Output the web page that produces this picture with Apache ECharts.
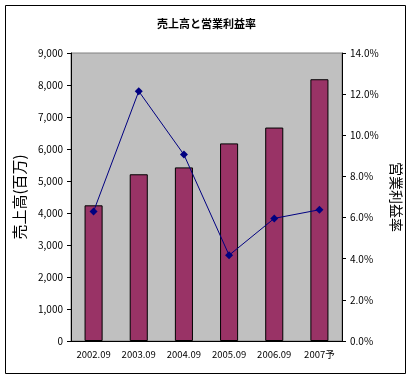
<!DOCTYPE html>
<html><head><meta charset="utf-8">
<script src="https://cdn.jsdelivr.net/npm/echarts@6/dist/echarts.min.js"></script>
<style>html,body{margin:0;padding:0;background:#fff}#c{width:413px;height:380px}</style>
</head><body><div id="c"></div>
<script>
var categories = ['2002.09','2003.09','2004.09','2005.09','2006.09','2007予'];
var sales = [4240, 5210, 5425, 6175, 6670, 8180];
var margin = [6.30, 12.14, 9.06, 4.17, 5.96, 6.38];
var titleText = '売上高と営業利益率';
var leftName = '売上高(百万)';
var rightName = '営業利益率';

var F = '"Noto Sans CJK JP", "Liberation Sans", sans-serif';
var chart = echarts.init(document.getElementById('c'), null, {renderer:'canvas'});
chart.setOption({
  animation:false,
  backgroundColor:'#fff',
  title:{text:titleText,left:'center',top:13,textStyle:{fontSize:11,fontWeight:'bold',color:'#000',fontFamily:F}},
  graphic:[{type:'rect',shape:{x:5.5,y:5.5,width:400,height:368},style:{fill:'none',stroke:'#000',lineWidth:1},z:-1}],
  grid:{left:71,right:71,top:53,bottom:39,show:true,backgroundColor:'#C0C0C0',borderColor:'#808080',borderWidth:1},
  xAxis:{type:'category',data:categories,
    axisLine:{lineStyle:{color:'#000',width:1}},
    axisTick:{inside:true,length:3,lineStyle:{color:'#000'}},
    axisLabel:{color:'#000',fontSize:9.5,fontFamily:F,margin:9,interval:0,hideOverlap:false}},
  yAxis:[
    {type:'value',min:0,max:9000,interval:1000,position:'left',
     name:leftName,nameLocation:'middle',nameRotate:90,nameGap:42,
     nameTextStyle:{fontSize:15,color:'#000',fontFamily:F},
     axisLine:{show:true,lineStyle:{color:'#000'}},
     axisTick:{show:true,length:4,lineStyle:{color:'#000'}},
     splitLine:{show:false},
     axisLabel:{color:'#000',fontSize:10,fontFamily:F,margin:8,
       formatter:function(v){return v.toLocaleString('en-US');}}},
    {type:'value',min:0,max:14,interval:2,position:'right',
     name:rightName,nameLocation:'middle',nameRotate:-90,nameGap:46,
     nameTextStyle:{fontSize:14,color:'#000',fontFamily:F},
     axisLine:{show:true,lineStyle:{color:'#000'}},
     axisTick:{show:true,length:4,lineStyle:{color:'#000'}},
     splitLine:{show:false},
     axisLabel:{color:'#000',fontSize:10,fontFamily:F,margin:8,
       formatter:function(v){return v.toFixed(1)+'%';}}}
  ],
  series:[
    {type:'bar',data:sales,barWidth:'40%',yAxisIndex:0,
     itemStyle:{color:'#993366',borderColor:'#000',borderWidth:1}},
    {type:'line',data:margin,yAxisIndex:1,symbol:'diamond',symbolSize:8,
     lineStyle:{color:'#000080',width:1},itemStyle:{color:'#000080'}}
  ]
});
</script></body></html>
